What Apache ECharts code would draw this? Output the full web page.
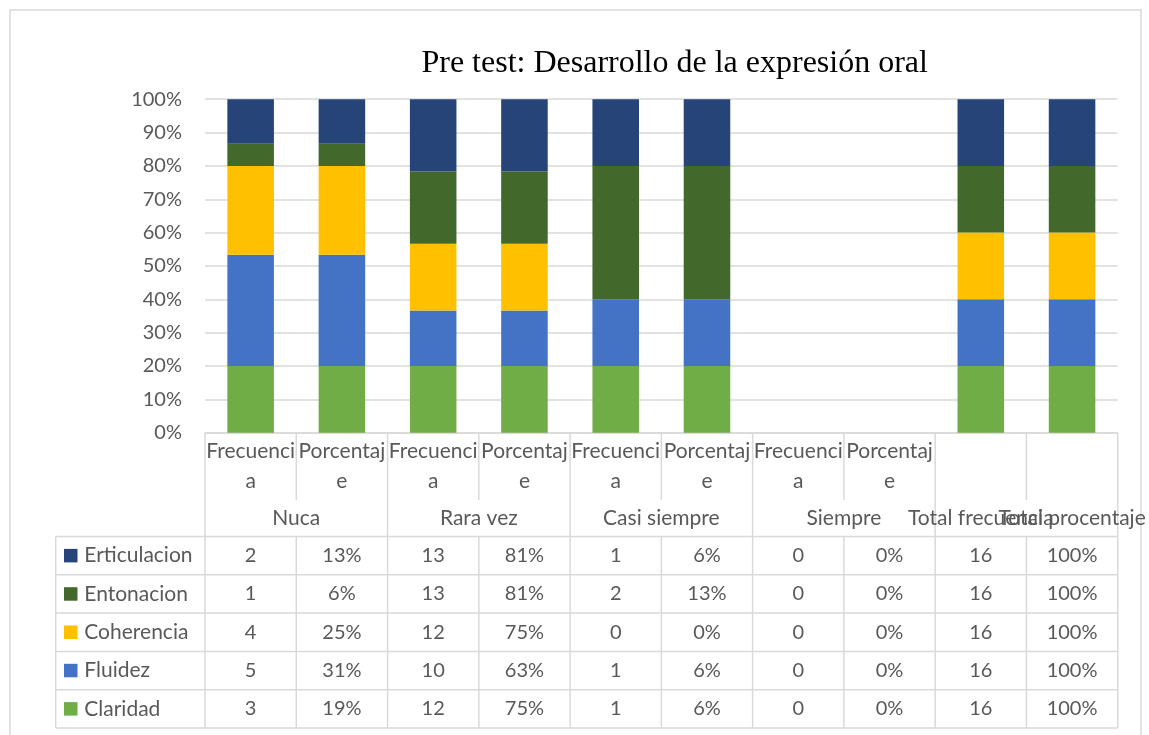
<!DOCTYPE html>
<html><head><meta charset="utf-8">
<script src="https://cdn.jsdelivr.net/npm/echarts@6/dist/echarts.min.js"></script>
<style>html,body{margin:0;padding:0;background:#fff}#c{width:1149px;height:735px}</style>
</head><body><div id="c"></div>
<script>
// ---- data ----
const chartTitle = 'Pre test: Desarrollo de la expresión oral';
const groups = ['Nuca', 'Rara vez', 'Casi siempre', 'Siempre', 'Total frecuencia', 'Total procentaje'];
const groupSpans = [2, 2, 2, 2, 1, 1];
const categories = ['Frecuencia', 'Porcentaje', 'Frecuencia', 'Porcentaje', 'Frecuencia', 'Porcentaje', 'Frecuencia', 'Porcentaje', '', ''];
const percentColumns = [false, true, false, true, false, true, false, true, false, true];
const seriesNames = ['Claridad', 'Fluidez', 'Coherencia', 'Entonacion', 'Erticulacion'];
const claridad     = [3, 0.1875, 12, 0.75,   1, 0.0625, 0, 0, 16, 1.00];
const fluidez      = [5, 0.3125, 10, 0.625,  1, 0.0625, 0, 0, 16, 1.00];
const coherencia   = [4, 0.25,   12, 0.75,   0, 0.0,    0, 0, 16, 1.00];
const entonacion   = [1, 0.0625, 13, 0.8125, 2, 0.125,  0, 0, 16, 1.00];
const erticulacion = [2, 0.125,  13, 0.8125, 1, 0.0625, 0, 0, 16, 1.00];

// ---- styles ----
const seriesData = [claridad, fluidez, coherencia, entonacion, erticulacion];
const colors = ['#70AD47', '#4472C4', '#FFC000', '#43682B', '#264478'];
const txt = '#595959';
const lineC = '#D9D9D9';
const FONT = 'Lato';
const FS = 20;      // numbers
const FSW = 21;     // words

const totals = categories.map((_, i) => seriesData.reduce((s, arr) => s + arr[i], 0));
const normalized = seriesData.map(arr => arr.map((v, i) => totals[i] ? v / totals[i] : 0));

const chart = echarts.init(document.getElementById('c'), null, { renderer: 'canvas' });
const gridLeft = 205, gridRight = 1149 - 1117.7, gridTop = 99.2, gridBottomY = 432.7;
const colW = (1117.7 - 205) / categories.length;

chart.setOption({
  animation: false,
  grid: { left: gridLeft, right: gridRight, top: gridTop, bottom: 735 - gridBottomY, containLabel: false },
  xAxis: {
    type: 'category',
    data: categories,
    axisTick: { show: false },
    axisLine: { show: true, lineStyle: { color: lineC, width: 1.5 } },
    axisLabel: {
      interval: 0, color: txt, fontFamily: FONT, fontSize: FSW, lineHeight: 30,
      width: colW + 2, overflow: 'breakAll', margin: 4
    }
  },
  yAxis: {
    type: 'value', min: 0, max: 1, interval: 0.1,
    axisLine: { show: false }, axisTick: { show: false },
    splitLine: { lineStyle: { color: lineC, width: 1.5 } },
    axisLabel: {
      color: txt, fontFamily: FONT, fontSize: FS, margin: 23,
      formatter: v => Math.round(v * 100) + '%'
    }
  },
  series: seriesNames.map((name, k) => ({
    name, type: 'bar', stack: 'total', barCategoryGap: '49%',
    itemStyle: { color: colors[k] },
    data: normalized[k]
  }))
});

// ---- table / labels built from axis positions ----
const cx = i => chart.convertToPixel({ xAxisIndex: 0 }, i);
const half = (cx(1) - cx(0)) / 2;
const bx = i => (i < categories.length ? cx(i) - half : cx(categories.length - 1) + half);
const y0 = chart.convertToPixel({ yAxisIndex: 0 }, 0);
const subBottom = 500, tableTop = 536.5, rowH = 38.3, nRows = seriesNames.length;
const tableBottom = tableTop + rowH * nRows;
const legendLeft = 55.7;
const g = [];
const line = (x1, y1, x2, y2) => g.push({ type: 'line', silent: true, shape: { x1, y1, x2, y2 }, style: { stroke: lineC, lineWidth: 1.5 } });
const text = (x, y, s, size, opts) => g.push({ type: 'text', silent: true, x, y, style: Object.assign({
  text: s, fill: txt, font: size + 'px ' + FONT, align: 'center', verticalAlign: 'middle', textAlign: 'center', textVerticalAlign: 'middle'
}, opts || {}) });

// outer border
g.push({ type: 'rect', silent: true, shape: { x: 10, y: 10, width: 1131, height: 760 }, style: { fill: 'none', stroke: lineC, lineWidth: 1.5 } });
// title
g.push({ type: 'text', silent: true, x: 674.7, y: 64, style: { text: chartTitle, fill: '#000', font: '32px "Liberation Serif"', align: 'center', verticalAlign: 'middle', textAlign: 'center', textVerticalAlign: 'middle' } });

// group boundaries
const groupStarts = [];
let acc = 0;
groupSpans.forEach(s => { groupStarts.push(acc); acc += s; });
const fullDiv = new Set([0, 2, 4, 6, 8, 10]);
for (let i = 0; i <= categories.length; i++) {
  const x = bx(i);
  line(x, y0, x, subBottom);
  if (fullDiv.has(i)) line(x, subBottom, x, tableTop);
  line(x, tableTop, x, tableBottom);
}
// group labels
groups.forEach((name, k) => {
  const a = groupStarts[k], b = a + groupSpans[k];
  text((bx(a) + bx(b)) / 2, 518.3, name, FSW);
});
// table horizontal lines
for (let r = 0; r <= nRows; r++) line(legendLeft, tableTop + r * rowH, bx(categories.length), tableTop + r * rowH);
line(legendLeft, tableTop, legendLeft, tableBottom);
// rows (top = last series)
for (let r = 0; r < nRows; r++) {
  const k = nRows - 1 - r;
  const yc = tableTop + r * rowH + rowH / 2;
  g.push({ type: 'rect', silent: true, shape: { x: 64, y: yc - 6.75, width: 13.5, height: 13.5 }, style: { fill: colors[k] } });
  text(84.3, yc, seriesNames[k], FSW, { align: 'left', textAlign: 'left' });
  seriesData[k].forEach((v, i) => {
    text(cx(i), yc, percentColumns[i] ? Math.round(v * 100) + '%' : String(v), FS);
  });
}
chart.setOption({ graphic: { elements: g } });
</script></body></html>
